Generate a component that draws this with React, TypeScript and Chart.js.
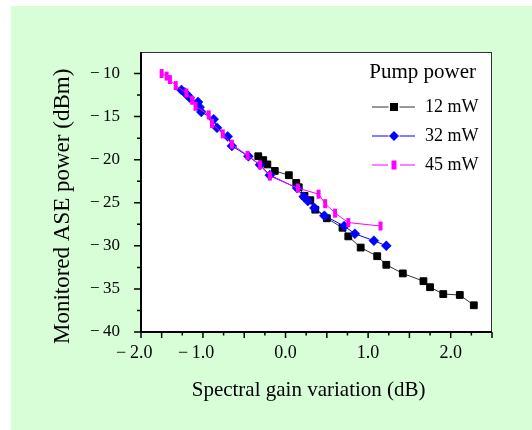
import React, { useEffect, useRef } from 'react';
import { Chart, registerables } from 'chart.js';

Chart.register(...registerables);

// ---- data ----
const seriesNames = ['12 mW', '32 mW', '45 mW'];
const legendTitle = 'Pump power';
const xTitle = 'Spectral gain variation (dB)   ';
const yTitle = 'Monitored ASE power (dBm)     ';

const x12 = [-0.33, -0.27, -0.22, -0.13, 0.04, 0.13, 0.16, 0.23, 0.30, 0.36, 0.50, 0.69, 0.76, 0.91, 1.11, 1.22, 1.42, 1.67, 1.75, 1.91, 2.11, 2.28];
const y12 = [-19.6, -20.05, -20.55, -21.3, -21.8, -22.7, -23.2, -24.2, -24.7, -25.8, -26.8, -27.9, -28.9, -30.2, -31.2, -32.2, -33.2, -34.1, -34.8, -35.6, -35.7, -36.9];

const x32 = [-1.26, -1.22, -1.19, -1.16, -1.06, -1.04, -1.02, -0.87, -0.83, -0.70, -0.65, -0.45, -0.31, -0.19, 0.14, 0.22, 0.27, 0.35, 0.47, 0.71, 0.84, 1.07, 1.22];
const y32 = [-11.9, -12.2, -12.5, -12.8, -13.3, -13.9, -14.45, -15.3, -16.3, -17.3, -18.4, -19.6, -20.6, -21.8, -23.3, -24.3, -24.8, -25.6, -26.5, -27.7, -28.6, -29.4, -30.0];

const x45 = [-1.50, -1.44, -1.40, -1.33, -1.20, -1.13, -1.09, -0.93, -0.89, -0.76, -0.65, -0.46, -0.31, -0.19, 0.15, 0.40, 0.48, 0.60, 0.76, 1.15];
const y45 = [-10.0, -10.3, -10.7, -11.4, -12.25, -13.1, -13.8, -14.8, -15.8, -17.0, -18.2, -19.5, -20.6, -21.9, -23.3, -24.0, -25.1, -26.2, -27.3, -27.7];

// axis ticks
const xMin = -1.75;
const xMax = 2.5;
const yMin = -40;
const yMax = -7.5;
const xLabelValues = [-1.75, -1, 0, 1, 2];
const xLabelTexts = ['\u2212\u20092.0   ', '\u2212\u20091.0   ', '0.0', '1.0', '2.0'];
const yLabelValues = [-40, -35, -30, -25, -20, -15, -10];
const yLabelTexts = ['\u2212\u200940', '\u2212\u200935', '\u2212\u200930', '\u2212\u200925', '\u2212\u200920', '\u2212\u200915', '\u2212\u200910'];
const xMajorTicks = [-1.75, -1.5, -1, -0.5, 0, 0.5, 1, 1.5, 2, 2.5];
const xMinorTicks = [-1.25, -0.75, -0.25, 0.25, 0.75, 1.25, 1.75, 2.25];
const yMajorTicks = [-40, -35, -30, -25, -20, -15, -10];
const yMinorTicks = [-37.5, -32.5, -27.5, -22.5, -17.5, -12.5];

const FONT = "'Liberation Serif', 'Times New Roman', serif";
const colors = ['#000000', '#0000ff', '#ff00ff'];
const lineColors = ['#333333', '#0000ff', '#ff00ff'];

const toPts = (xs: number[], ys: number[]) => xs.map((x, i) => ({ x, y: ys[i] }));

const framePlugin = {
  id: 'frame',
  beforeDatasetsDraw(chart: any) {
    const { ctx, chartArea } = chart;
    const { left, right, top, bottom } = chartArea;
    ctx.save();
    ctx.fillStyle = '#ffffff';
    ctx.fillRect(left, top, right - left, bottom - top);
    ctx.restore();
  },
  afterDraw(chart: any) {
    const { ctx, chartArea, scales } = chart;
    const { left, right, top, bottom } = chartArea;
    const xs = scales.x;
    const ys = scales.y;
    ctx.save();
    // top & right frame
    ctx.strokeStyle = '#333';
    ctx.lineWidth = 1;
    ctx.beginPath();
    ctx.moveTo(left, top + 0.5);
    ctx.lineTo(right, top + 0.5);
    ctx.moveTo(right - 0.5, top);
    ctx.lineTo(right - 0.5, bottom);
    ctx.stroke();
    // axis lines
    ctx.strokeStyle = '#000';
    ctx.lineWidth = 2;
    ctx.beginPath();
    ctx.moveTo(left, top);
    ctx.lineTo(left, bottom);
    ctx.lineTo(right, bottom);
    ctx.stroke();
    // ticks
    ctx.lineWidth = 1.5;
    ctx.beginPath();
    xMajorTicks.forEach((v) => {
      const p = xs.getPixelForValue(v);
      ctx.moveTo(p, bottom);
      ctx.lineTo(p, bottom + 6);
    });
    xMinorTicks.forEach((v) => {
      const p = xs.getPixelForValue(v);
      ctx.moveTo(p, bottom);
      ctx.lineTo(p, bottom + 3.5);
    });
    yMajorTicks.forEach((v) => {
      const p = ys.getPixelForValue(v);
      ctx.moveTo(left, p);
      ctx.lineTo(left - 7, p);
    });
    yMinorTicks.forEach((v) => {
      const p = ys.getPixelForValue(v);
      ctx.moveTo(left, p);
      ctx.lineTo(left - 4, p);
    });
    ctx.stroke();

    // legend
    const lx0 = right - 120;
    const lx1 = right - 77;
    const mx = right - 98;
    const tx = right - 67;
    ctx.fillStyle = '#000';
    ctx.font = `21px ${FONT}`;
    ctx.textBaseline = 'middle';
    ctx.textAlign = 'right';
    ctx.fillText(legendTitle, right - 16, top + 20);
    ctx.textAlign = 'left';
    ctx.font = `18px ${FONT}`;
    seriesNames.forEach((name, i) => {
      const ly = top + 55 + i * 29;
      const gap = i === 2 ? 6 : 5.5;
      ctx.strokeStyle = lineColors[i];
      ctx.lineWidth = 1;
      ctx.beginPath();
      ctx.moveTo(lx0, ly);
      ctx.lineTo(mx - gap, ly);
      ctx.moveTo(mx + gap, ly);
      ctx.lineTo(lx1, ly);
      ctx.stroke();
      ctx.fillStyle = colors[i];
      if (i === 0) {
        ctx.fillRect(mx - 4, ly - 4, 8, 8);
      } else if (i === 1) {
        ctx.beginPath();
        ctx.moveTo(mx - 5, ly);
        ctx.lineTo(mx, ly - 5);
        ctx.lineTo(mx + 5, ly);
        ctx.lineTo(mx, ly + 5);
        ctx.closePath();
        ctx.fill();
      } else {
        ctx.fillRect(mx - 2.5, ly - 4.5, 5, 9);
      }
      ctx.fillStyle = '#000';
      ctx.fillText(name, tx, ly);
    });
    ctx.restore();
  },
};

export default function App() {
  const ref = useRef<HTMLCanvasElement | null>(null);

  useEffect(() => {
    document.body.style.margin = '0';
    const canvas = ref.current;
    if (!canvas) return;
    const chart = new Chart(canvas, {
      type: 'line',
      data: {
        datasets: [
          {
            label: seriesNames[0],
            data: toPts(x12, y12),
            borderColor: lineColors[0],
            borderWidth: 1,
            pointStyle: 'rect',
            pointRadius: 4.8,
            pointBackgroundColor: colors[0],
            pointBorderColor: colors[0],
            pointBorderWidth: 1,
            order: 3,
          },
          {
            label: seriesNames[1],
            data: toPts(x32, y32),
            borderColor: lineColors[1],
            borderWidth: 1,
            pointStyle: 'rectRot',
            pointRadius: 5,
            pointBackgroundColor: colors[1],
            pointBorderColor: colors[1],
            pointBorderWidth: 0.5,
            order: 2,
          },
          {
            label: seriesNames[2],
            data: toPts(x45, y45),
            borderColor: lineColors[2],
            borderWidth: 1,
            pointStyle: 'line',
            pointRotation: 90,
            pointRadius: 4.5,
            pointBackgroundColor: colors[2],
            pointBorderColor: colors[2],
            pointBorderWidth: 4,
            order: 1,
          },
        ],
      },
      options: {
        responsive: false,
        animation: false,
        devicePixelRatio: 1,
        layout: { padding: { left: 0, top: 52, right: 40, bottom: 0 } },
        plugins: {
          legend: { display: false },
          tooltip: { enabled: false },
        },
        elements: { line: { tension: 0 } },
        scales: {
          x: {
            type: 'linear',
            min: xMin,
            max: xMax,
            grid: { display: false, drawTicks: false },
            border: { display: false },
            afterBuildTicks: (scale: any) => {
              scale.ticks = xLabelValues.map((v) => ({ value: v }));
            },
            afterFit: (scale: any) => {
              scale.height = 98;
            },
            ticks: {
              autoSkip: false,
              maxRotation: 0,
              padding: 10,
              color: '#000',
              font: { family: FONT, size: 18 },
              callback: (value: any) => {
                const i = xLabelValues.indexOf(Number(value));
                return i >= 0 ? xLabelTexts[i] : '';
              },
            },
            title: {
              display: true,
              text: xTitle,
              color: '#000',
              font: { family: FONT, size: 21 },
              padding: { top: 0, bottom: 27 },
            },
          },
          y: {
            type: 'linear',
            min: yMin,
            max: yMax,
            grid: { display: false, drawTicks: false },
            border: { display: false },
            afterBuildTicks: (scale: any) => {
              scale.ticks = yLabelValues.map((v) => ({ value: v }));
            },
            afterFit: (scale: any) => {
              scale.width = 141;
            },
            ticks: {
              autoSkip: false,
              padding: 21,
              color: '#000',
              font: { family: FONT, size: 17 },
              callback: (value: any) => {
                const i = yLabelValues.indexOf(Number(value));
                return i >= 0 ? yLabelTexts[i] : '';
              },
            },
            title: {
              display: true,
              text: yTitle,
              color: '#000',
              font: { family: FONT, size: 23 },
              padding: { top: 49, bottom: 0 },
            },
          },
        },
      },
      plugins: [framePlugin],
    } as any);
    return () => chart.destroy();
  }, []);

  return (
    <div style={{ position: 'relative', width: 532, height: 430, background: '#ffffff', overflow: 'hidden' }}>
      <div style={{ position: 'absolute', left: 11, top: 6, right: 0, bottom: 0, background: '#d8fed8' }} />
      <canvas ref={ref} width={532} height={430} style={{ position: 'absolute', left: 0, top: 0, display: 'block' }} />
    </div>
  );
}
